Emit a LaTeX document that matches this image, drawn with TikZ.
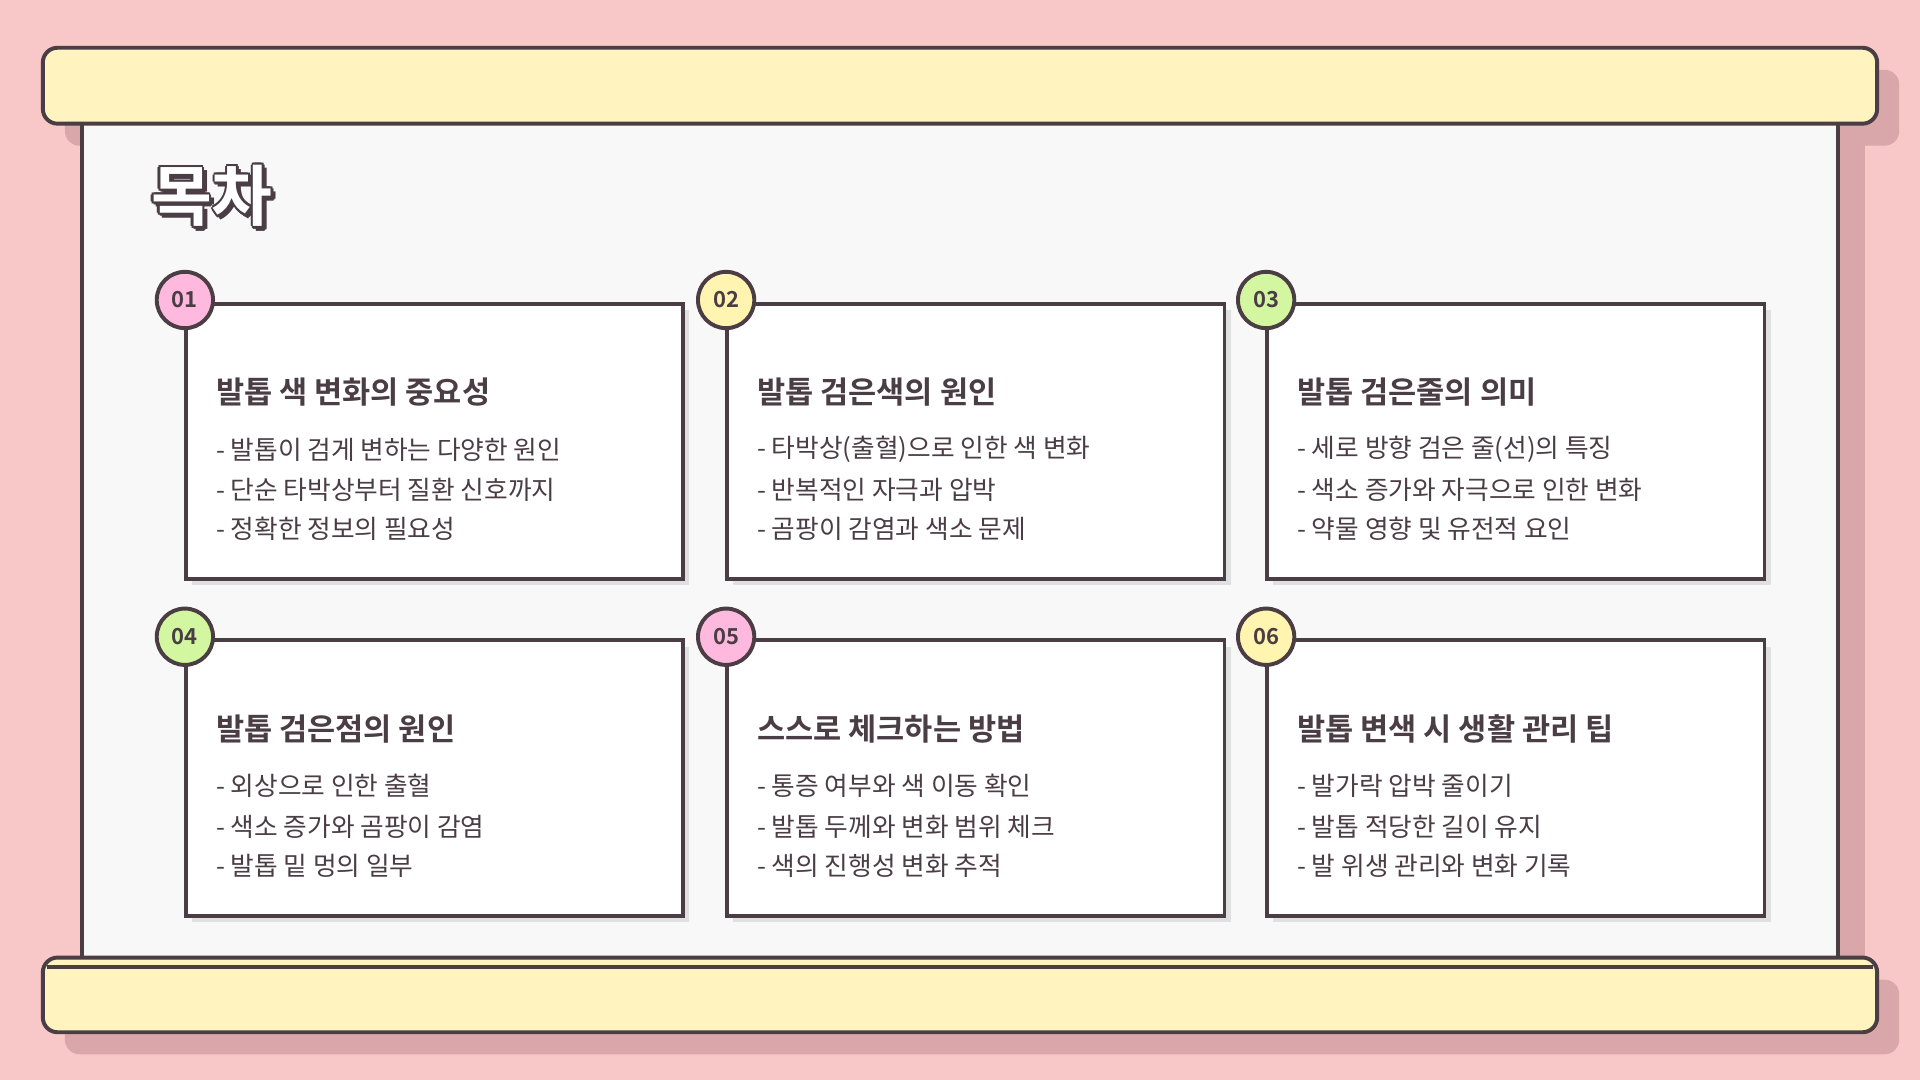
\documentclass[tikz,border=0pt]{standalone}
\usepackage{fontspec}
\setmainfont{Noto Sans CJK KR}
\newfontfamily\kb{Noto Sans CJK KR Bold}
\definecolor{bg}{HTML}{F8C8C9}
\definecolor{ink}{HTML}{4A3D44}
\definecolor{cream}{HTML}{FFF3C0}
\definecolor{sh}{HTML}{D9A6A9}
\definecolor{panel}{HTML}{F9F8F8}
\definecolor{cpink}{HTML}{FFB8DE}
\definecolor{cyel}{HTML}{FFF4B0}
\definecolor{cgreen}{HTML}{D2F7A0}
\tikzset{
 bar/.style={draw=ink,line width=1.6pt,fill=cream,rounded corners=6pt},
 card/.style={draw=ink,line width=1.6pt,fill=white},
 num/.style={circle,draw=ink,line width=1.6pt,minimum size=23pt,inner sep=0pt,font=\kb\fontsize{9}{10}\selectfont,text=ink},
 ttl/.style={anchor=west,font=\kb\fontsize{12.5}{14}\selectfont,text=ink,inner sep=0pt},
 itm/.style={anchor=west,font=\fontsize{10.5}{12}\selectfont,text=ink,inner sep=0pt},
}
\begin{document}
\begin{tikzpicture}[x=0.5pt,y=-0.5pt]
\fill[bg] (0,0) rectangle (1568,882);
\useasboundingbox (0,0) rectangle (1568,882);
% shadows
\fill[sh,rounded corners=6pt] (53,57) rectangle (1551,119);
\fill[sh] (1501,110) rectangle (1523,800);
\fill[sh,rounded corners=6pt] (53,800) rectangle (1551,861);
% panel
\draw[ink,line width=1.6pt,fill=panel] (67,95) rectangle (1501,790);
\node[bar,minimum width=749pt,minimum height=31pt,inner sep=0pt] (top) at (784,70) {};
\draw[bar] (35,782) rectangle (1533,843);
\draw[ink,line width=1.6pt] (38,790) -- (1530,790);
% title
\foreach \dx/\dy in {2/0,-2/0,0/2,0/-2,1.5/1.5,-1.5/1.5,1.5/-1.5,-1.5/-1.5,3/3,2/4,4/2}
 \node[anchor=west,font=\kb\fontsize{27}{30}\selectfont,text=ink,inner sep=0pt] at (123+\dx,160+\dy) {목차};
\node[anchor=west,font=\kb\fontsize{27}{30}\selectfont,text=white,inner sep=0pt] (title) at (123,160) {목차};
% cards
\foreach \x/\y/\c/\n/\t/\a/\b/\d in {
152/248/cpink/01/발톱 색 변화의 중요성/발톱이 검게 변하는 다양한 원인/단순 타박상부터 질환 신호까지/정확한 정보의 필요성,
594/248/cyel/02/발톱 검은색의 원인/타박상(출혈)으로 인한 색 변화/반복적인 자극과 압박/곰팡이 감염과 색소 문제,
1035/248/cgreen/03/발톱 검은줄의 의미/세로 방향 검은 줄(선)의 특징/색소 증가와 자극으로 인한 변화/약물 영향 및 유전적 요인,
152/523/cgreen/04/발톱 검은점의 원인/외상으로 인한 출혈/색소 증가와 곰팡이 감염/발톱 밑 멍의 일부,
594/523/cpink/05/스스로 체크하는 방법/통증 여부와 색 이동 확인/발톱 두께와 변화 범위 체크/색의 진행성 변화 추적,
1035/523/cyel/06/발톱 변색 시 생활 관리 팁/발가락 압박 줄이기/발톱 적당한 길이 유지/발 위생 관리와 변화 기록}{
 \fill[black!12] (\x+5,\y+5) rectangle (\x+411,\y+230);
 \draw[card] (\x,\y) rectangle (\x+406,\y+225);
 \node[num,fill=\c] (n\n) at (\x-1,\y-3) {\n};
 \node[ttl] (t\n) at (\x+24,\y+72) {\t};
 \node[itm] (a\n) at (\x+24,\y+119) {- \a};
 \node[itm] (b\n) at (\x+24,\y+152) {- \b};
 \node[itm] (d\n) at (\x+24,\y+184) {- \d};
}
\end{tikzpicture}
\end{document}
